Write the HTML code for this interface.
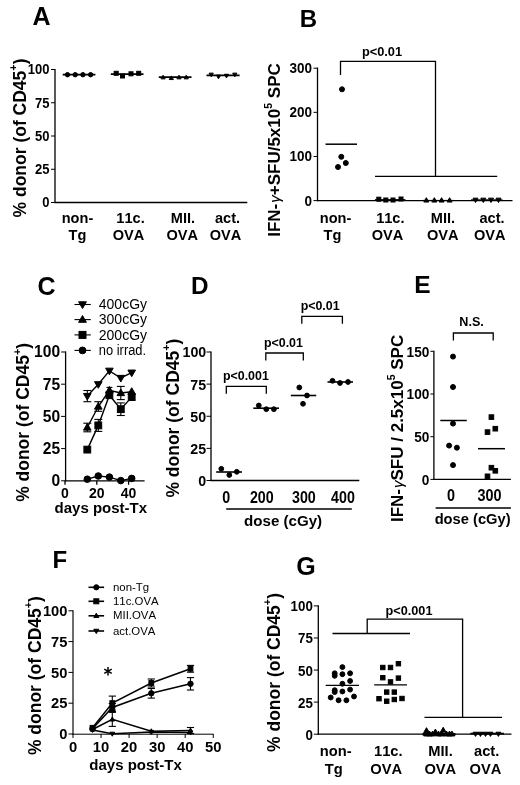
<!DOCTYPE html>
<html><head><meta charset="utf-8"><title>Figure</title>
<style>
html,body{margin:0;padding:0;background:#fff;}
body{width:520px;height:785px;overflow:hidden;}
svg{display:block;font-family:"Liberation Sans",sans-serif;will-change:transform;filter:blur(0.4px);}
svg text{fill:#000;stroke:none;font-kerning:none;}
</style></head><body>
<svg width="520" height="785" viewBox="0 0 520 785" fill="#000" stroke="#000" stroke-linecap="butt">
<rect x="0" y="0" width="520" height="785" fill="#fff" stroke="none"/>
<text x="41.50" y="25.00" font-size="25" font-weight="bold" text-anchor="middle" >A</text>
<line x1="55.00" y1="68.90" x2="55.00" y2="203.10" stroke-width="1.3"/>
<line x1="54.40" y1="202.50" x2="247.30" y2="202.50" stroke-width="1.3"/>
<line x1="51.00" y1="202.50" x2="55.00" y2="202.50" stroke-width="1.0"/>
<text transform="translate(49.50,207.40) scale(0.885,1)" font-size="14.7" font-weight="bold" text-anchor="end" >0</text>
<line x1="51.00" y1="169.25" x2="55.00" y2="169.25" stroke-width="1.0"/>
<text transform="translate(49.50,174.15) scale(0.885,1)" font-size="14.7" font-weight="bold" text-anchor="end" >25</text>
<line x1="51.00" y1="136.00" x2="55.00" y2="136.00" stroke-width="1.0"/>
<text transform="translate(49.50,140.90) scale(0.885,1)" font-size="14.7" font-weight="bold" text-anchor="end" >50</text>
<line x1="51.00" y1="102.75" x2="55.00" y2="102.75" stroke-width="1.0"/>
<text transform="translate(49.50,107.65) scale(0.885,1)" font-size="14.7" font-weight="bold" text-anchor="end" >75</text>
<line x1="51.00" y1="69.50" x2="55.00" y2="69.50" stroke-width="1.0"/>
<text transform="translate(49.50,74.40) scale(0.885,1)" font-size="14.7" font-weight="bold" text-anchor="end" >100</text>
<text transform="translate(25.60,138.00) rotate(-90)" font-size="17.5" font-weight="bold" text-anchor="middle" >% donor (of CD45<tspan dy="-8.8" font-size="10.8">+</tspan><tspan dy="8.8">)</tspan></text>
<circle cx="67.50" cy="74.70" r="2.2"/>
<circle cx="75.20" cy="74.70" r="2.2"/>
<circle cx="82.90" cy="74.70" r="2.2"/>
<circle cx="90.60" cy="74.70" r="2.2"/>
<line x1="62.70" y1="74.70" x2="95.40" y2="74.70" stroke-width="1.7"/>
<rect x="114.20" y="71.30" width="4.0" height="4.0"/>
<rect x="120.50" y="74.00" width="4.0" height="4.0"/>
<rect x="129.00" y="71.80" width="4.0" height="4.0"/>
<rect x="136.70" y="71.30" width="4.0" height="4.0"/>
<line x1="110.80" y1="74.20" x2="143.50" y2="74.20" stroke-width="1.7"/>
<polygon points="163.10,75.21 161.00,78.86 165.20,78.86"/>
<polygon points="171.30,75.91 169.20,79.56 173.40,79.56"/>
<polygon points="179.00,75.21 176.90,78.86 181.10,78.86"/>
<polygon points="186.20,75.21 184.10,78.86 188.30,78.86"/>
<line x1="158.80" y1="77.20" x2="191.50" y2="77.20" stroke-width="1.7"/>
<polygon points="211.20,76.79 209.10,73.14 213.30,73.14"/>
<polygon points="218.50,78.79 216.40,75.14 220.60,75.14"/>
<polygon points="226.50,77.89 224.40,74.24 228.60,74.24"/>
<polygon points="234.80,76.79 232.70,73.14 236.90,73.14"/>
<line x1="206.50" y1="75.30" x2="239.60" y2="75.30" stroke-width="1.7"/>
<text transform="translate(77.50,223.20) scale(0.94,1)" font-size="15.5" font-weight="bold" text-anchor="middle" >non-</text>
<text transform="translate(77.50,240.30) scale(0.94,1)" font-size="15.5" font-weight="bold" text-anchor="middle" >Tg</text>
<text transform="translate(130.50,223.20) scale(0.94,1)" font-size="15.5" font-weight="bold" text-anchor="middle" >11c.</text>
<text transform="translate(128.40,240.30) scale(0.94,1)" font-size="15.5" font-weight="bold" text-anchor="middle" >OVA</text>
<text transform="translate(182.90,223.20) scale(0.94,1)" font-size="15.5" font-weight="bold" text-anchor="middle" >MII.</text>
<text transform="translate(182.20,240.30) scale(0.94,1)" font-size="15.5" font-weight="bold" text-anchor="middle" >OVA</text>
<text transform="translate(227.50,223.20) scale(0.94,1)" font-size="15.5" font-weight="bold" text-anchor="middle" >act.</text>
<text transform="translate(225.40,240.30) scale(0.94,1)" font-size="15.5" font-weight="bold" text-anchor="middle" >OVA</text>
<text x="308.50" y="27.20" font-size="24" font-weight="bold" text-anchor="middle" >B</text>
<line x1="317.50" y1="67.60" x2="317.50" y2="201.20" stroke-width="1.3"/>
<line x1="316.90" y1="200.60" x2="512.50" y2="200.60" stroke-width="1.3"/>
<line x1="313.50" y1="200.60" x2="317.50" y2="200.60" stroke-width="1.0"/>
<text transform="translate(312.00,205.50) scale(0.92,1)" font-size="14.7" font-weight="bold" text-anchor="end" >0</text>
<line x1="313.50" y1="156.47" x2="317.50" y2="156.47" stroke-width="1.0"/>
<text transform="translate(312.00,161.37) scale(0.92,1)" font-size="14.7" font-weight="bold" text-anchor="end" >100</text>
<line x1="313.50" y1="112.33" x2="317.50" y2="112.33" stroke-width="1.0"/>
<text transform="translate(312.00,117.23) scale(0.92,1)" font-size="14.7" font-weight="bold" text-anchor="end" >200</text>
<line x1="313.50" y1="68.20" x2="317.50" y2="68.20" stroke-width="1.0"/>
<text transform="translate(312.00,73.10) scale(0.92,1)" font-size="14.7" font-weight="bold" text-anchor="end" >300</text>
<text transform="translate(280.30,150.00) rotate(-90)" font-size="17" font-weight="bold" text-anchor="middle" >IFN-<tspan font-weight="normal" font-style="italic" dx="1" font-size="15">&#947;</tspan>+SFU/5x10<tspan dy="-8.0" font-size="10.5">5</tspan><tspan dy="8.0"> SPC</tspan></text>
<circle cx="342.00" cy="89.30" r="2.5"/>
<circle cx="341.30" cy="156.80" r="2.5"/>
<circle cx="338.00" cy="167.00" r="2.5"/>
<circle cx="345.80" cy="163.00" r="2.5"/>
<line x1="325.50" y1="144.20" x2="357.00" y2="144.20" stroke-width="1.5"/>
<polyline points="340.50,75.00 340.50,61.40 435.50,61.40 435.50,176.30" fill="none" stroke-width="1.3"/>
<line x1="375.00" y1="176.30" x2="497.20" y2="176.30" stroke-width="1.3"/>
<text x="382.00" y="55.70" font-size="12.8" font-weight="bold" text-anchor="middle" >p&lt;0.01</text>
<rect x="376.80" y="197.20" width="4.0" height="4.0"/>
<rect x="383.80" y="198.00" width="4.0" height="4.0"/>
<rect x="391.00" y="198.00" width="4.0" height="4.0"/>
<rect x="399.00" y="197.00" width="4.0" height="4.0"/>
<line x1="375.00" y1="200.00" x2="405.40" y2="200.00" stroke-width="1.8"/>
<polygon points="426.30,197.69 423.80,202.04 428.80,202.04"/>
<polygon points="434.30,197.69 431.80,202.04 436.80,202.04"/>
<polygon points="441.60,197.69 439.10,202.04 444.10,202.04"/>
<polygon points="449.60,197.69 447.10,202.04 452.10,202.04"/>
<line x1="422.80" y1="200.40" x2="453.60" y2="200.40" stroke-width="1"/>
<polygon points="475.50,202.51 473.00,198.16 478.00,198.16"/>
<polygon points="483.30,202.51 480.80,198.16 485.80,198.16"/>
<polygon points="491.00,202.51 488.50,198.16 493.50,198.16"/>
<polygon points="498.50,202.51 496.00,198.16 501.00,198.16"/>
<line x1="471.00" y1="199.80" x2="502.50" y2="199.80" stroke-width="1"/>
<text transform="translate(335.60,222.90) scale(0.94,1)" font-size="15.5" font-weight="bold" text-anchor="middle" >non-</text>
<text transform="translate(332.50,240.30) scale(0.94,1)" font-size="15.5" font-weight="bold" text-anchor="middle" >Tg</text>
<text transform="translate(390.30,222.90) scale(0.94,1)" font-size="15.5" font-weight="bold" text-anchor="middle" >11c.</text>
<text transform="translate(387.50,240.30) scale(0.94,1)" font-size="15.5" font-weight="bold" text-anchor="middle" >OVA</text>
<text transform="translate(443.00,222.90) scale(0.94,1)" font-size="15.5" font-weight="bold" text-anchor="middle" >MII.</text>
<text transform="translate(442.80,240.30) scale(0.94,1)" font-size="15.5" font-weight="bold" text-anchor="middle" >OVA</text>
<text transform="translate(492.00,222.90) scale(0.94,1)" font-size="15.5" font-weight="bold" text-anchor="middle" >act.</text>
<text transform="translate(489.80,240.30) scale(0.94,1)" font-size="15.5" font-weight="bold" text-anchor="middle" >OVA</text>
<text x="46.50" y="294.60" font-size="25" font-weight="bold" text-anchor="middle" >C</text>
<line x1="65.60" y1="351.40" x2="65.60" y2="481.40" stroke-width="1.3"/>
<line x1="65.00" y1="480.80" x2="144.60" y2="480.80" stroke-width="1.3"/>
<line x1="61.10" y1="480.80" x2="65.60" y2="480.80" stroke-width="1.0"/>
<text x="60.10" y="486.10" font-size="15.6" font-weight="bold" text-anchor="end" >0</text>
<line x1="61.10" y1="448.60" x2="65.60" y2="448.60" stroke-width="1.0"/>
<text x="60.10" y="453.90" font-size="15.6" font-weight="bold" text-anchor="end" >25</text>
<line x1="61.10" y1="416.40" x2="65.60" y2="416.40" stroke-width="1.0"/>
<text x="60.10" y="421.70" font-size="15.6" font-weight="bold" text-anchor="end" >50</text>
<line x1="61.10" y1="384.20" x2="65.60" y2="384.20" stroke-width="1.0"/>
<text x="60.10" y="389.50" font-size="15.6" font-weight="bold" text-anchor="end" >75</text>
<line x1="61.10" y1="352.00" x2="65.60" y2="352.00" stroke-width="1.0"/>
<text x="60.10" y="357.30" font-size="15.6" font-weight="bold" text-anchor="end" >100</text>
<line x1="65.00" y1="480.80" x2="65.00" y2="484.80" stroke-width="1.3"/>
<text transform="translate(65.00,498.30) scale(0.96,1)" font-size="14.6" font-weight="bold" text-anchor="middle" >0</text>
<line x1="96.80" y1="480.80" x2="96.80" y2="484.80" stroke-width="1.3"/>
<text transform="translate(96.80,498.30) scale(0.96,1)" font-size="14.6" font-weight="bold" text-anchor="middle" >20</text>
<line x1="128.60" y1="480.80" x2="128.60" y2="484.80" stroke-width="1.3"/>
<text transform="translate(128.60,498.30) scale(0.96,1)" font-size="14.6" font-weight="bold" text-anchor="middle" >40</text>
<text x="100.80" y="512.70" font-size="15" font-weight="bold" text-anchor="middle" >days post-Tx</text>
<text transform="translate(29.40,422.40) rotate(-90)" font-size="17.5" font-weight="bold" text-anchor="middle" >% donor (of CD45<tspan dy="-8.8" font-size="10.8">+</tspan><tspan dy="8.8">)</tspan></text>
<polyline points="87.30,396.10 98.30,384.30 109.40,370.80 120.80,378.00 131.70,372.70" fill="none" stroke-width="1.4"/>
<polyline points="87.30,427.50 98.30,406.50 109.40,390.40 120.80,393.00 131.70,391.70" fill="none" stroke-width="1.4"/>
<polyline points="87.30,449.60 98.30,425.40 109.40,395.20 120.80,409.20 131.70,397.10" fill="none" stroke-width="1.4"/>
<polyline points="87.30,479.20 98.30,476.00 109.40,477.10 120.80,480.60 131.70,478.40" fill="none" stroke-width="1.4"/>
<line x1="87.30" y1="390.50" x2="87.30" y2="401.70" stroke-width="1.1"/>
<line x1="83.30" y1="390.50" x2="91.30" y2="390.50" stroke-width="1.1"/>
<line x1="83.30" y1="401.70" x2="91.30" y2="401.70" stroke-width="1.1"/>
<line x1="87.30" y1="423.20" x2="87.30" y2="431.80" stroke-width="1.1"/>
<line x1="83.30" y1="423.20" x2="91.30" y2="423.20" stroke-width="1.1"/>
<line x1="83.30" y1="431.80" x2="91.30" y2="431.80" stroke-width="1.1"/>
<line x1="98.30" y1="401.70" x2="98.30" y2="411.30" stroke-width="1.1"/>
<line x1="94.30" y1="401.70" x2="102.30" y2="401.70" stroke-width="1.1"/>
<line x1="94.30" y1="411.30" x2="102.30" y2="411.30" stroke-width="1.1"/>
<line x1="120.80" y1="386.40" x2="120.80" y2="399.60" stroke-width="1.1"/>
<line x1="116.80" y1="386.40" x2="124.80" y2="386.40" stroke-width="1.1"/>
<line x1="116.80" y1="399.60" x2="124.80" y2="399.60" stroke-width="1.1"/>
<line x1="98.30" y1="419.40" x2="98.30" y2="431.40" stroke-width="1.1"/>
<line x1="94.30" y1="419.40" x2="102.30" y2="419.40" stroke-width="1.1"/>
<line x1="94.30" y1="431.40" x2="102.30" y2="431.40" stroke-width="1.1"/>
<line x1="120.80" y1="402.90" x2="120.80" y2="415.50" stroke-width="1.1"/>
<line x1="116.80" y1="402.90" x2="124.80" y2="402.90" stroke-width="1.1"/>
<line x1="116.80" y1="415.50" x2="124.80" y2="415.50" stroke-width="1.1"/>
<line x1="109.40" y1="387.40" x2="109.40" y2="393.40" stroke-width="1.1"/>
<line x1="106.40" y1="387.40" x2="112.40" y2="387.40" stroke-width="1.1"/>
<line x1="106.40" y1="393.40" x2="112.40" y2="393.40" stroke-width="1.1"/>
<polygon points="87.30,400.07 83.50,393.46 91.10,393.46"/>
<polygon points="98.30,388.27 94.50,381.66 102.10,381.66"/>
<polygon points="109.40,374.77 105.60,368.16 113.20,368.16"/>
<polygon points="120.80,381.97 117.00,375.36 124.60,375.36"/>
<polygon points="131.70,376.67 127.90,370.06 135.50,370.06"/>
<polygon points="87.30,423.53 83.50,430.14 91.10,430.14"/>
<polygon points="98.30,402.53 94.50,409.14 102.10,409.14"/>
<polygon points="109.40,386.43 105.60,393.04 113.20,393.04"/>
<polygon points="120.80,389.03 117.00,395.64 124.60,395.64"/>
<polygon points="131.70,387.73 127.90,394.34 135.50,394.34"/>
<rect x="83.90" y="446.20" width="6.8" height="6.8"/>
<rect x="94.90" y="422.00" width="6.8" height="6.8"/>
<rect x="106.00" y="391.80" width="6.8" height="6.8"/>
<rect x="117.40" y="405.80" width="6.8" height="6.8"/>
<rect x="128.30" y="393.70" width="6.8" height="6.8"/>
<circle cx="87.30" cy="479.20" r="3.3"/>
<circle cx="98.30" cy="476.00" r="3.3"/>
<circle cx="109.40" cy="477.10" r="3.3"/>
<circle cx="120.80" cy="480.60" r="3.3"/>
<circle cx="131.70" cy="478.40" r="3.3"/>
<line x1="74.50" y1="304.50" x2="90.80" y2="304.50" stroke-width="1.1"/>
<polygon points="82.50,308.57 78.60,301.79 86.40,301.79"/>
<text x="98.80" y="309.30" font-size="14" font-weight="normal" text-anchor="start" >400cGy</text>
<line x1="74.50" y1="319.60" x2="90.80" y2="319.60" stroke-width="1.1"/>
<polygon points="82.50,315.53 78.60,322.31 86.40,322.31"/>
<text x="98.80" y="324.40" font-size="14" font-weight="normal" text-anchor="start" >300cGy</text>
<line x1="74.50" y1="334.90" x2="90.80" y2="334.90" stroke-width="1.1"/>
<rect x="79.00" y="331.40" width="7" height="7"/>
<text x="98.80" y="339.70" font-size="14" font-weight="normal" text-anchor="start" >200cGy</text>
<line x1="74.50" y1="350.40" x2="90.80" y2="350.40" stroke-width="1.1"/>
<circle cx="82.50" cy="350.40" r="3.4"/>
<text x="98.80" y="355.20" font-size="14" font-weight="normal" text-anchor="start" textLength="47.3" lengthAdjust="spacingAndGlyphs">no irrad.</text>
<text x="199.70" y="294.30" font-size="24.3" font-weight="bold" text-anchor="middle" >D</text>
<line x1="211.00" y1="351.40" x2="211.00" y2="481.10" stroke-width="1.3"/>
<line x1="210.40" y1="480.50" x2="359.30" y2="480.50" stroke-width="1.3"/>
<line x1="206.50" y1="480.50" x2="211.00" y2="480.50" stroke-width="1.0"/>
<text transform="translate(206.20,485.90) scale(0.93,1)" font-size="15.3" font-weight="bold" text-anchor="end" >0</text>
<line x1="206.50" y1="448.38" x2="211.00" y2="448.38" stroke-width="1.0"/>
<text transform="translate(206.20,453.77) scale(0.93,1)" font-size="15.3" font-weight="bold" text-anchor="end" >25</text>
<line x1="206.50" y1="416.25" x2="211.00" y2="416.25" stroke-width="1.0"/>
<text transform="translate(206.20,421.65) scale(0.93,1)" font-size="15.3" font-weight="bold" text-anchor="end" >50</text>
<line x1="206.50" y1="384.12" x2="211.00" y2="384.12" stroke-width="1.0"/>
<text transform="translate(206.20,389.52) scale(0.93,1)" font-size="15.3" font-weight="bold" text-anchor="end" >75</text>
<line x1="206.50" y1="352.00" x2="211.00" y2="352.00" stroke-width="1.0"/>
<text transform="translate(206.20,357.40) scale(0.93,1)" font-size="15.3" font-weight="bold" text-anchor="end" >100</text>
<text transform="translate(178.60,418.10) rotate(-90)" font-size="17.5" font-weight="bold" text-anchor="middle" >% donor (of CD45<tspan dy="-8.8" font-size="10.8">+</tspan><tspan dy="8.8">)</tspan></text>
<circle cx="221.30" cy="468.80" r="2.4"/>
<circle cx="229.30" cy="475.00" r="2.4"/>
<circle cx="236.80" cy="471.80" r="2.4"/>
<line x1="216.20" y1="472.00" x2="242.00" y2="472.00" stroke-width="1.6"/>
<circle cx="258.80" cy="405.50" r="2.4"/>
<circle cx="266.30" cy="409.20" r="2.4"/>
<circle cx="273.90" cy="409.20" r="2.4"/>
<line x1="253.30" y1="408.20" x2="279.00" y2="408.20" stroke-width="1.6"/>
<circle cx="299.30" cy="387.50" r="2.4"/>
<circle cx="303.00" cy="403.80" r="2.4"/>
<circle cx="307.00" cy="395.50" r="2.4"/>
<line x1="290.80" y1="395.50" x2="316.20" y2="395.50" stroke-width="1.6"/>
<circle cx="332.50" cy="380.80" r="2.4"/>
<circle cx="340.00" cy="383.00" r="2.4"/>
<circle cx="348.00" cy="382.00" r="2.4"/>
<line x1="327.50" y1="382.00" x2="353.00" y2="382.00" stroke-width="1.6"/>
<text transform="translate(226.30,502.80) scale(0.87,1)" font-size="16.4" font-weight="bold" text-anchor="middle" >0</text>
<text transform="translate(261.80,502.80) scale(0.87,1)" font-size="16.4" font-weight="bold" text-anchor="middle" >200</text>
<text transform="translate(303.90,502.80) scale(0.87,1)" font-size="16.4" font-weight="bold" text-anchor="middle" >300</text>
<text transform="translate(343.00,502.80) scale(0.87,1)" font-size="16.4" font-weight="bold" text-anchor="middle" >400</text>
<line x1="226.20" y1="508.90" x2="351.80" y2="508.90" stroke-width="1.5"/>
<text x="283.10" y="526.00" font-size="15.1" font-weight="bold" text-anchor="middle" >dose (cGy)</text>
<polyline points="226.30,393.80 226.30,386.30 266.30,386.30 266.30,393.80" fill="none" stroke-width="1.3"/>
<text x="245.90" y="380.10" font-size="12.4" font-weight="bold" text-anchor="middle" >p&lt;0.001</text>
<polyline points="265.80,360.50 265.80,353.00 303.30,353.00 303.30,360.50" fill="none" stroke-width="1.3"/>
<text x="283.40" y="346.90" font-size="12.4" font-weight="bold" text-anchor="middle" >p&lt;0.01</text>
<polyline points="301.80,323.80 301.80,316.30 342.40,316.30 342.40,323.80" fill="none" stroke-width="1.3"/>
<text x="320.10" y="309.50" font-size="12.4" font-weight="bold" text-anchor="middle" >p&lt;0.01</text>
<text x="422.50" y="293.20" font-size="24.5" font-weight="bold" text-anchor="middle" >E</text>
<line x1="433.90" y1="350.70" x2="433.90" y2="480.00" stroke-width="1.3"/>
<line x1="433.30" y1="479.40" x2="510.90" y2="479.40" stroke-width="1.3"/>
<line x1="430.40" y1="479.40" x2="433.90" y2="479.40" stroke-width="1.0"/>
<text transform="translate(429.30,484.70) scale(0.88,1)" font-size="15.5" font-weight="bold" text-anchor="end" >0</text>
<line x1="430.40" y1="436.70" x2="433.90" y2="436.70" stroke-width="1.0"/>
<text transform="translate(429.30,442.00) scale(0.88,1)" font-size="15.5" font-weight="bold" text-anchor="end" >50</text>
<line x1="430.40" y1="394.00" x2="433.90" y2="394.00" stroke-width="1.0"/>
<text transform="translate(429.30,399.30) scale(0.88,1)" font-size="15.5" font-weight="bold" text-anchor="end" >100</text>
<line x1="430.40" y1="351.30" x2="433.90" y2="351.30" stroke-width="1.0"/>
<text transform="translate(429.30,356.60) scale(0.88,1)" font-size="15.5" font-weight="bold" text-anchor="end" >150</text>
<text transform="translate(402.60,428.40) rotate(-90)" font-size="17" font-weight="bold" text-anchor="middle" >IFN-<tspan font-weight="normal" font-style="italic" dx="1" font-size="15">&#947;</tspan>SFU / 2.5x10<tspan dy="-8.0" font-size="10.5">5</tspan><tspan dy="8.0"> SPC</tspan></text>
<circle cx="453.00" cy="356.60" r="2.5"/>
<circle cx="453.00" cy="387.00" r="2.5"/>
<circle cx="453.00" cy="423.60" r="2.5"/>
<circle cx="449.10" cy="445.60" r="2.5"/>
<circle cx="456.90" cy="447.70" r="2.5"/>
<circle cx="453.00" cy="465.10" r="2.5"/>
<line x1="440.30" y1="420.50" x2="466.80" y2="420.50" stroke-width="1.5"/>
<rect x="489.10" y="414.80" width="4.6" height="4.6"/>
<rect x="485.20" y="429.80" width="4.6" height="4.6"/>
<rect x="493.00" y="426.40" width="4.6" height="4.6"/>
<rect x="489.10" y="465.40" width="4.6" height="4.6"/>
<rect x="493.00" y="468.50" width="4.6" height="4.6"/>
<rect x="485.20" y="474.00" width="4.6" height="4.6"/>
<line x1="478.00" y1="448.70" x2="505.00" y2="448.70" stroke-width="1.5"/>
<polyline points="453.40,340.40 453.40,333.00 493.20,333.00 493.20,340.40" fill="none" stroke-width="1.3"/>
<text x="471.60" y="325.70" font-size="12.6" font-weight="bold" text-anchor="middle" >N.S.</text>
<text transform="translate(451.00,500.90) scale(0.9,1)" font-size="16.0" font-weight="bold" text-anchor="middle" >0</text>
<text transform="translate(489.50,500.90) scale(0.9,1)" font-size="16.0" font-weight="bold" text-anchor="middle" >300</text>
<line x1="435.60" y1="508.00" x2="510.90" y2="508.00" stroke-width="1.5"/>
<text x="472.60" y="524.20" font-size="14.7" font-weight="bold" text-anchor="middle" >dose (cGy)</text>
<text x="59.90" y="568.40" font-size="24" font-weight="bold" text-anchor="middle" >F</text>
<line x1="73.00" y1="610.20" x2="73.00" y2="734.60" stroke-width="1.15"/>
<line x1="72.40" y1="734.20" x2="213.60" y2="734.20" stroke-width="1.0"/>
<line x1="68.50" y1="734.00" x2="73.00" y2="734.00" stroke-width="1.0"/>
<text x="67.40" y="739.20" font-size="14.7" font-weight="bold" text-anchor="end" >0</text>
<line x1="68.50" y1="703.20" x2="73.00" y2="703.20" stroke-width="1.0"/>
<text x="67.40" y="708.40" font-size="14.7" font-weight="bold" text-anchor="end" >25</text>
<line x1="68.50" y1="672.40" x2="73.00" y2="672.40" stroke-width="1.0"/>
<text x="67.40" y="677.60" font-size="14.7" font-weight="bold" text-anchor="end" >50</text>
<line x1="68.50" y1="641.60" x2="73.00" y2="641.60" stroke-width="1.0"/>
<text x="67.40" y="646.80" font-size="14.7" font-weight="bold" text-anchor="end" >75</text>
<line x1="68.50" y1="610.80" x2="73.00" y2="610.80" stroke-width="1.0"/>
<text x="67.40" y="616.00" font-size="14.7" font-weight="bold" text-anchor="end" >100</text>
<line x1="73.00" y1="734.00" x2="73.00" y2="738.00" stroke-width="1.0"/>
<text x="73.00" y="751.80" font-size="14.8" font-weight="bold" text-anchor="middle" >0</text>
<line x1="101.05" y1="734.00" x2="101.05" y2="738.00" stroke-width="1.0"/>
<text x="101.05" y="751.80" font-size="14.8" font-weight="bold" text-anchor="middle" >10</text>
<line x1="129.10" y1="734.00" x2="129.10" y2="738.00" stroke-width="1.0"/>
<text x="129.10" y="751.80" font-size="14.8" font-weight="bold" text-anchor="middle" >20</text>
<line x1="157.15" y1="734.00" x2="157.15" y2="738.00" stroke-width="1.0"/>
<text x="157.15" y="751.80" font-size="14.8" font-weight="bold" text-anchor="middle" >30</text>
<line x1="185.20" y1="734.00" x2="185.20" y2="738.00" stroke-width="1.0"/>
<text x="185.20" y="751.80" font-size="14.8" font-weight="bold" text-anchor="middle" >40</text>
<line x1="213.25" y1="734.00" x2="213.25" y2="738.00" stroke-width="1.0"/>
<text x="213.25" y="751.80" font-size="14.8" font-weight="bold" text-anchor="middle" >50</text>
<text x="135.60" y="769.90" font-size="15" font-weight="bold" text-anchor="middle" >days post-Tx</text>
<text transform="translate(40.60,675.60) rotate(-90)" font-size="17.5" font-weight="bold" text-anchor="middle" >% donor (of CD45<tspan dy="-8.8" font-size="10.8">+</tspan><tspan dy="8.8">)</tspan></text>
<polyline points="92.50,727.80 112.30,703.10 151.30,683.00 190.50,668.80" fill="none" stroke-width="1.5"/>
<polyline points="92.50,728.80 112.30,707.50 151.30,693.30 190.50,683.80" fill="none" stroke-width="1.5"/>
<polyline points="92.50,729.50 112.30,719.40 151.30,731.20 190.50,730.50" fill="none" stroke-width="1.5"/>
<polyline points="92.50,730.00 112.30,733.80 151.30,732.00 190.50,732.50" fill="none" stroke-width="1.5"/>
<line x1="112.30" y1="696.10" x2="112.30" y2="710.10" stroke-width="1.1"/>
<line x1="108.70" y1="696.10" x2="115.90" y2="696.10" stroke-width="1.1"/>
<line x1="108.70" y1="710.10" x2="115.90" y2="710.10" stroke-width="1.1"/>
<line x1="151.30" y1="679.00" x2="151.30" y2="687.00" stroke-width="1.1"/>
<line x1="147.70" y1="679.00" x2="154.90" y2="679.00" stroke-width="1.1"/>
<line x1="147.70" y1="687.00" x2="154.90" y2="687.00" stroke-width="1.1"/>
<line x1="190.50" y1="665.40" x2="190.50" y2="672.20" stroke-width="1.1"/>
<line x1="186.90" y1="665.40" x2="194.10" y2="665.40" stroke-width="1.1"/>
<line x1="186.90" y1="672.20" x2="194.10" y2="672.20" stroke-width="1.1"/>
<line x1="112.30" y1="703.50" x2="112.30" y2="711.50" stroke-width="1.1"/>
<line x1="108.70" y1="703.50" x2="115.90" y2="703.50" stroke-width="1.1"/>
<line x1="108.70" y1="711.50" x2="115.90" y2="711.50" stroke-width="1.1"/>
<line x1="151.30" y1="688.50" x2="151.30" y2="698.10" stroke-width="1.1"/>
<line x1="147.70" y1="688.50" x2="154.90" y2="688.50" stroke-width="1.1"/>
<line x1="147.70" y1="698.10" x2="154.90" y2="698.10" stroke-width="1.1"/>
<line x1="190.50" y1="677.60" x2="190.50" y2="690.00" stroke-width="1.1"/>
<line x1="186.90" y1="677.60" x2="194.10" y2="677.60" stroke-width="1.1"/>
<line x1="186.90" y1="690.00" x2="194.10" y2="690.00" stroke-width="1.1"/>
<line x1="112.30" y1="712.40" x2="112.30" y2="726.40" stroke-width="1.1"/>
<line x1="108.70" y1="712.40" x2="115.90" y2="712.40" stroke-width="1.1"/>
<line x1="108.70" y1="726.40" x2="115.90" y2="726.40" stroke-width="1.1"/>
<line x1="190.50" y1="727.50" x2="190.50" y2="733.50" stroke-width="1.1"/>
<line x1="186.90" y1="727.50" x2="194.10" y2="727.50" stroke-width="1.1"/>
<line x1="186.90" y1="733.50" x2="194.10" y2="733.50" stroke-width="1.1"/>
<rect x="90.10" y="725.40" width="4.8" height="4.8"/>
<rect x="109.90" y="700.70" width="4.8" height="4.8"/>
<rect x="148.90" y="680.60" width="4.8" height="4.8"/>
<rect x="188.10" y="666.40" width="4.8" height="4.8"/>
<circle cx="92.50" cy="728.80" r="2.7"/>
<circle cx="112.30" cy="707.50" r="2.7"/>
<circle cx="151.30" cy="693.30" r="2.7"/>
<circle cx="190.50" cy="683.80" r="2.7"/>
<polygon points="92.50,727.10 90.20,731.10 94.80,731.10"/>
<polygon points="112.30,717.00 110.00,721.00 114.60,721.00"/>
<polygon points="151.30,728.80 149.00,732.80 153.60,732.80"/>
<polygon points="190.50,728.10 188.20,732.10 192.80,732.10"/>
<polygon points="112.30,706.68 109.50,711.55 115.10,711.55"/>
<polygon points="92.50,732.40 90.20,728.40 94.80,728.40"/>
<polygon points="112.30,736.20 110.00,732.20 114.60,732.20"/>
<polygon points="151.30,734.40 149.00,730.40 153.60,730.40"/>
<polygon points="190.50,734.90 188.20,730.90 192.80,730.90"/>
<line x1="108.00" y1="667.00" x2="108.00" y2="675.60" stroke-width="1.5"/>
<line x1="104.28" y1="669.15" x2="111.72" y2="673.45" stroke-width="1.5"/>
<line x1="111.72" y1="669.15" x2="104.28" y2="673.45" stroke-width="1.5"/>
<line x1="88.50" y1="587.30" x2="104.10" y2="587.30" stroke-width="1.6"/>
<circle cx="96.30" cy="587.30" r="2.6"/>
<text x="113.00" y="590.90" font-size="11.4" font-weight="normal" text-anchor="start" >non-Tg</text>
<line x1="88.50" y1="601.30" x2="104.10" y2="601.30" stroke-width="1.6"/>
<rect x="93.80" y="598.80" width="5" height="5"/>
<text x="113.00" y="604.90" font-size="11.4" font-weight="normal" text-anchor="start" >11c.OVA</text>
<line x1="88.50" y1="615.80" x2="104.10" y2="615.80" stroke-width="1.6"/>
<polygon points="96.30,613.19 93.80,617.54 98.80,617.54"/>
<text x="113.00" y="619.40" font-size="11.4" font-weight="normal" text-anchor="start" >MII.OVA</text>
<line x1="88.50" y1="631.00" x2="104.10" y2="631.00" stroke-width="1.6"/>
<polygon points="96.30,633.61 93.80,629.26 98.80,629.26"/>
<text x="113.00" y="634.60" font-size="11.4" font-weight="normal" text-anchor="start" >act.OVA</text>
<text x="306.00" y="574.50" font-size="25" font-weight="bold" text-anchor="middle" >G</text>
<line x1="318.30" y1="605.30" x2="318.30" y2="734.80" stroke-width="1.3"/>
<line x1="317.70" y1="734.20" x2="511.50" y2="734.20" stroke-width="1.3"/>
<line x1="313.80" y1="734.20" x2="318.30" y2="734.20" stroke-width="1.0"/>
<text transform="translate(312.80,739.70) scale(0.86,1)" font-size="15.5" font-weight="bold" text-anchor="end" >0</text>
<line x1="313.80" y1="702.12" x2="318.30" y2="702.12" stroke-width="1.0"/>
<text transform="translate(312.80,707.62) scale(0.86,1)" font-size="15.5" font-weight="bold" text-anchor="end" >25</text>
<line x1="313.80" y1="670.05" x2="318.30" y2="670.05" stroke-width="1.0"/>
<text transform="translate(312.80,675.55) scale(0.86,1)" font-size="15.5" font-weight="bold" text-anchor="end" >50</text>
<line x1="313.80" y1="637.98" x2="318.30" y2="637.98" stroke-width="1.0"/>
<text transform="translate(312.80,643.48) scale(0.86,1)" font-size="15.5" font-weight="bold" text-anchor="end" >75</text>
<line x1="313.80" y1="605.90" x2="318.30" y2="605.90" stroke-width="1.0"/>
<text transform="translate(312.80,611.40) scale(0.86,1)" font-size="15.5" font-weight="bold" text-anchor="end" >100</text>
<text transform="translate(280.20,672.50) rotate(-90)" font-size="17.5" font-weight="bold" text-anchor="middle" >% donor (of CD45<tspan dy="-8.8" font-size="10.8">+</tspan><tspan dy="8.8">)</tspan></text>
<circle cx="342.40" cy="667.10" r="2.45"/>
<circle cx="334.70" cy="673.30" r="2.45"/>
<circle cx="334.70" cy="675.80" r="2.45"/>
<circle cx="342.40" cy="674.20" r="2.45"/>
<circle cx="350.10" cy="673.30" r="2.45"/>
<circle cx="350.10" cy="681.00" r="2.45"/>
<circle cx="342.40" cy="683.80" r="2.45"/>
<circle cx="334.70" cy="690.20" r="2.45"/>
<circle cx="334.70" cy="692.10" r="2.45"/>
<circle cx="342.40" cy="691.50" r="2.45"/>
<circle cx="350.10" cy="689.60" r="2.45"/>
<circle cx="330.70" cy="697.50" r="2.45"/>
<circle cx="338.60" cy="700.30" r="2.45"/>
<circle cx="346.40" cy="700.30" r="2.45"/>
<circle cx="354.00" cy="696.50" r="2.45"/>
<line x1="325.70" y1="685.40" x2="359.00" y2="685.40" stroke-width="1.4"/>
<rect x="396.20" y="661.50" width="4.4" height="4.4"/>
<rect x="380.60" y="665.30" width="4.4" height="4.4"/>
<rect x="388.30" y="665.30" width="4.4" height="4.4"/>
<rect x="380.60" y="675.50" width="4.4" height="4.4"/>
<rect x="396.20" y="675.90" width="4.4" height="4.4"/>
<rect x="388.30" y="679.70" width="4.4" height="4.4"/>
<rect x="384.50" y="689.90" width="4.4" height="4.4"/>
<rect x="392.10" y="689.90" width="4.4" height="4.4"/>
<rect x="376.80" y="696.50" width="4.4" height="4.4"/>
<rect x="384.50" y="699.00" width="4.4" height="4.4"/>
<rect x="392.10" y="697.30" width="4.4" height="4.4"/>
<rect x="399.80" y="696.30" width="4.4" height="4.4"/>
<line x1="374.20" y1="684.90" x2="407.00" y2="684.90" stroke-width="1.4"/>
<polygon points="426.50,731.08 423.70,735.95 429.30,735.95"/>
<polygon points="429.50,731.08 426.70,735.95 432.30,735.95"/>
<polygon points="432.50,731.08 429.70,735.95 435.30,735.95"/>
<polygon points="438.50,731.08 435.70,735.95 441.30,735.95"/>
<polygon points="441.50,731.08 438.70,735.95 444.30,735.95"/>
<polygon points="446.50,731.08 443.70,735.95 449.30,735.95"/>
<polygon points="449.50,731.08 446.70,735.95 452.30,735.95"/>
<polygon points="452.00,731.08 449.20,735.95 454.80,735.95"/>
<polygon points="426.50,727.68 423.70,732.55 429.30,732.55"/>
<polygon points="443.20,727.28 440.40,732.15 446.00,732.15"/>
<polygon points="435.40,729.08 432.60,733.95 438.20,733.95"/>
<line x1="422.50" y1="734.30" x2="455.50" y2="734.30" stroke-width="2.6"/>
<polygon points="475.50,736.41 473.10,732.23 477.90,732.23"/>
<polygon points="480.50,736.41 478.10,732.23 482.90,732.23"/>
<polygon points="485.50,736.41 483.10,732.23 487.90,732.23"/>
<polygon points="490.50,736.41 488.10,732.23 492.90,732.23"/>
<polygon points="498.40,736.41 496.00,732.23 500.80,732.23"/>
<line x1="470.30" y1="733.60" x2="504.00" y2="733.60" stroke-width="1.8"/>
<line x1="332.50" y1="633.50" x2="410.00" y2="633.50" stroke-width="1.3"/>
<polyline points="367.20,633.50 367.20,619.20 462.60,619.20 462.60,717.40" fill="none" stroke-width="1.3"/>
<line x1="424.50" y1="717.40" x2="502.00" y2="717.40" stroke-width="1.3"/>
<text x="409.00" y="614.80" font-size="12.7" font-weight="bold" text-anchor="middle" >p&lt;0.001</text>
<text x="335.70" y="756.20" font-size="14.7" font-weight="bold" text-anchor="middle" >non-</text>
<text x="333.80" y="774.30" font-size="14.7" font-weight="bold" text-anchor="middle" >Tg</text>
<text x="388.30" y="756.20" font-size="14.7" font-weight="bold" text-anchor="middle" >11c.</text>
<text x="386.20" y="774.30" font-size="14.7" font-weight="bold" text-anchor="middle" >OVA</text>
<text x="440.50" y="756.20" font-size="14.7" font-weight="bold" text-anchor="middle" >MII.</text>
<text x="440.30" y="774.30" font-size="14.7" font-weight="bold" text-anchor="middle" >OVA</text>
<text x="486.70" y="756.20" font-size="14.7" font-weight="bold" text-anchor="middle" >act.</text>
<text x="485.40" y="774.30" font-size="14.7" font-weight="bold" text-anchor="middle" >OVA</text>
</svg>
</body></html>
